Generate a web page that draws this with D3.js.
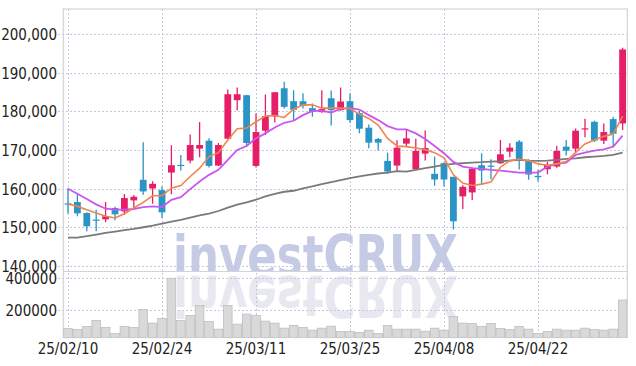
<!DOCTYPE html>
<html><head><meta charset="utf-8">
<script src="https://cdn.jsdelivr.net/npm/d3@7"></script>
<style>html,body{margin:0;padding:0;background:#fff;}svg{display:block;}</style>
</head><body><svg id="c" width="636" height="366"></svg>
<script>
const dates = ["25/02/10","25/02/11","25/02/12","25/02/13","25/02/14","25/02/17","25/02/18","25/02/19","25/02/20","25/02/21",
"25/02/24","25/02/25","25/02/26","25/02/27","25/02/28","25/03/04","25/03/05","25/03/06","25/03/07","25/03/10",
"25/03/11","25/03/12","25/03/13","25/03/14","25/03/17","25/03/18","25/03/19","25/03/20","25/03/21","25/03/24",
"25/03/25","25/03/26","25/03/27","25/03/28","25/03/31","25/04/01","25/04/02","25/04/03","25/04/04","25/04/07",
"25/04/08","25/04/09","25/04/10","25/04/11","25/04/14","25/04/15","25/04/16","25/04/17","25/04/18","25/04/21",
"25/04/22","25/04/23","25/04/24","25/04/25","25/04/28","25/04/29","25/04/30","25/05/02","25/05/07","25/05/08"];
const opens = [156200,156540,153700,152000,152080,154990,154130,156970,162290,160060,
159630,164170,166150,167260,170350,172410,165980,172930,182880,184170,
165890,174990,178670,185970,182620,182620,180820,179790,183390,180300,
182620,179530,175760,172840,167180,165980,171640,165030,169060,163830,
166580,163060,158000,159030,166060,165950,166580,169580,172150,167090,
163320,165030,165720,170870,170350,175550,177300,172410,177990,176870];
const highs = [160100,158680,153900,154560,156540,155340,158600,158340,171980,161940,
160570,171220,168720,174040,177220,173010,171810,185620,186140,184300,
179450,184340,185000,187680,185450,184680,182020,185450,185370,186140,
184590,180130,176620,173100,169320,172500,175160,172930,175070,168290,
166830,163100,160910,165460,169150,167610,172580,171720,172580,167610,
164860,166920,171040,172580,175590,178070,177560,176870,178590,196440];
const lows = [153500,152850,148990,148990,151300,151820,153280,154560,158430,156110,
152420,158540,164690,166580,168120,165460,165890,172800,180220,170870,
165460,173870,177130,180730,177470,180730,178590,179620,176360,180130,
177040,174300,170440,169840,163830,164600,170870,164860,167260,160740,
160570,149410,154740,157050,161170,162460,166410,168120,164950,162290,
161860,163750,165380,168550,169150,173270,172070,171550,170870,175160];
const closes = [156000,153620,150270,151900,152850,153360,157570,157910,159280,161260,
153880,166060,166000,171290,171290,165890,171290,184420,184420,171810,
174640,178760,184940,181160,180390,181420,179880,180560,180300,182540,
177730,175500,171900,171900,164430,170610,173010,169750,170520,162370,
162370,151560,160480,165120,164690,165850,168890,170610,167260,163660,
162970,166150,169750,169840,174990,175600,172410,174640,174210,196010];
const volumes = [80500,74100,93300,131700,86900,48500,93300,86900,202000,114600,
144400,400400,131700,163600,227600,125300,76200,227600,108200,172200,
163600,127400,114600,82600,99700,86900,69800,82600,95400,61300,
61300,54900,69800,48500,99700,76200,76200,76200,63400,82600,
69800,157200,114600,112500,93300,112500,80500,74100,93300,76200,
48500,61300,76200,69800,69800,82600,74100,69800,76200,261800];
const ma5 = [156040,155420,154560,153700,152850,152420,153530,154990,156450,158170,
158170,160140,160830,163150,165290,168290,169320,172580,175500,175670,
177300,178760,178930,178420,180560,181680,181680,180820,180820,180820,
180730,179270,178160,176440,173010,171040,170870,170520,170090,169320,
167950,163570,161430,160830,161170,161690,165550,167260,167610,167260,
166410,166060,166410,167010,169410,171550,172580,173530,174130,178760];
const ma10 = [160000,158680,157310,155940,154820,154560,154560,154740,155250,155420,
155250,157130,157820,159880,161860,163570,164860,167440,170010,171040,
173010,174300,175840,177040,177560,179020,180130,180130,179700,180650,
180820,180470,179020,177730,176190,175330,175330,174300,172840,171040,
169150,166920,165720,165290,165120,164860,164690,164430,164170,164170,
164170,165720,166410,166750,168720,169320,169840,170180,170870,173700];
const ma60 = [147360,147360,147700,148130,148560,148900,149250,149590,150020,150450,
150960,151480,151900,152510,153110,153540,154220,155080,155850,156450,
157140,158000,158680,159200,159460,160060,160570,161170,161690,162200,
162720,163150,163570,163920,164170,164520,164430,164860,165290,165720,
166150,166410,166580,166750,166840,167010,167090,167260,167440,167260,
167180,167260,167440,167690,167860,168120,168290,168460,168720,169320];
const priceTicks = [140000,150000,160000,170000,180000,190000,200000];
const volumeTicks = [200000,400000];
const dateTicks = ["25/02/10","25/02/24","25/03/11","25/03/25","25/04/08","25/04/22"];

const L = 63.3, R = 627.3, T = 9, PB = 271.5, VT = 272, VB = 337.5;
const svg = d3.select("#c");
const font = "'Liberation Sans Narrow','DejaVu Sans Condensed',sans-serif";
const wmFont = "'DejaVu Sans',Verdana,sans-serif";

const x = d3.scaleBand().domain(dates).range([L, R]).padding(0);
const bw = x.bandwidth();
const cx = d => x(d) + bw / 2;
const y = d3.scaleLinear().domain([140000, 200000]).range([266, 34]);
const yv = d3.scaleLinear().domain([200000, 400000]).range([309.7, 278.3]);

const defs = svg.append("defs");
defs.append("clipPath").attr("id", "cp").append("rect").attr("x", L).attr("y", T).attr("width", R - L).attr("height", PB - T);
defs.append("clipPath").attr("id", "cv").append("rect").attr("x", L).attr("y", VT).attr("width", R - L).attr("height", VB - VT);

// watermark
svg.append("g").attr("clip-path", "url(#cp)").append("text")
  .attr("x", 173).attr("y", 276).attr("textLength", 285).attr("lengthAdjust", "spacingAndGlyphs")
  .style("font-family", wmFont).style("font-weight", "bold").style("font-size", "57px")
  .attr("fill", "#c6cbe5").text("investCRUX");
svg.append("g").attr("clip-path", "url(#cv)").append("text")
  .attr("x", 173).attr("y", 276).attr("textLength", 285).attr("lengthAdjust", "spacingAndGlyphs")
  .attr("transform", "translate(0,552) scale(1,-1)")
  .style("font-family", wmFont).style("font-weight", "bold").style("font-size", "57px")
  .attr("fill", "#e8e8f1").text("investCRUX");

// grid
const grid = svg.append("g").attr("stroke", "#c3c8dc").attr("stroke-dasharray", "2,2").attr("stroke-width", 1);
grid.selectAll(".hp").data(priceTicks).join("line").attr("x1", 58).attr("x2", R).attr("y1", d => Math.round(y(d)) + 0.5).attr("y2", d => Math.round(y(d)) + 0.5);
grid.selectAll(".hv").data(volumeTicks).join("line").attr("class","hv").attr("x1", 58).attr("x2", R).attr("y1", d => Math.round(yv(d)) + 0.5).attr("y2", d => Math.round(yv(d)) + 0.5);
grid.selectAll(".vg").data(dateTicks).join("line").attr("class","vg").attr("y1", T).attr("y2", VB).attr("x1", d => Math.round(cx(d)) + 0.5).attr("x2", d => Math.round(cx(d)) + 0.5);

// borders
const bd = svg.append("g").attr("stroke", "#d4d4d8").attr("stroke-width", 1.2).attr("fill", "none");
bd.append("rect").attr("x", L).attr("y", T).attr("width", R - L).attr("height", VB - T);
bd.append("line").attr("x1", L).attr("x2", R).attr("y1", PB).attr("y2", PB);

// volume bars
svg.append("g").attr("clip-path", "url(#cv)").selectAll("rect").data(dates).join("rect")
  .attr("x", d => x(d) + 0.4).attr("width", bw - 0.8)
  .attr("y", (d, i) => yv(volumes[i])).attr("height", (d, i) => VB - yv(volumes[i]))
  .attr("fill", "#d9d9d9").attr("stroke", "#b9b9b9").attr("stroke-width", 0.7);

// candles
const up = "#e61e68", dn = "#2b94c7";
const cg = svg.append("g").attr("clip-path", "url(#cp)");
const cand = cg.selectAll("g").data(dates).join("g");
cand.append("line").attr("x1", d => cx(d)).attr("x2", d => cx(d))
  .attr("y1", (d, i) => y(highs[i])).attr("y2", (d, i) => y(lows[i]))
  .attr("stroke", (d, i) => closes[i] >= opens[i] ? up : dn).attr("stroke-width", 1.3);
cand.append("rect").attr("x", d => cx(d) - 3.4).attr("width", 6.8)
  .attr("y", (d, i) => y(Math.max(opens[i], closes[i])))
  .attr("height", (d, i) => Math.max(1.2, Math.abs(y(opens[i]) - y(closes[i]))))
  .attr("fill", (d, i) => closes[i] >= opens[i] ? up : dn);

// MA lines
const line = arr => d3.line().x((d, i) => cx(dates[i])).y(d => y(d))(arr);
cg.append("path").attr("d", line(ma60)).attr("fill", "none").attr("stroke", "#7a7a7a").attr("stroke-width", 1.8);
cg.append("path").attr("d", line(ma10)).attr("fill", "none").attr("stroke", "#cc55ee").attr("stroke-width", 1.8);
cg.append("path").attr("d", line(ma5)).attr("fill", "none").attr("stroke", "#f0844e").attr("stroke-width", 1.6);

// labels
const lab = svg.append("g").style("font-family", font).style("font-size", "15px").attr("fill", "#222");
lab.selectAll(".pl").data(priceTicks).join("text").attr("x", 57).attr("y", d => y(d) + 1.5)
  .attr("text-anchor", "end").attr("dominant-baseline", "middle").text(d => d3.format(",")(d));
lab.selectAll(".vl").data(volumeTicks).join("text").attr("class","vl").attr("x", 57).attr("y", d => yv(d) + 1.5)
  .attr("text-anchor", "end").attr("dominant-baseline", "middle").text(d => String(d));
lab.selectAll(".dl").data(dateTicks).join("text").attr("class","dl").attr("x", d => cx(d)).attr("y", 349)
  .attr("text-anchor", "middle").attr("dominant-baseline", "middle").text(d => d);
</script></body></html>
